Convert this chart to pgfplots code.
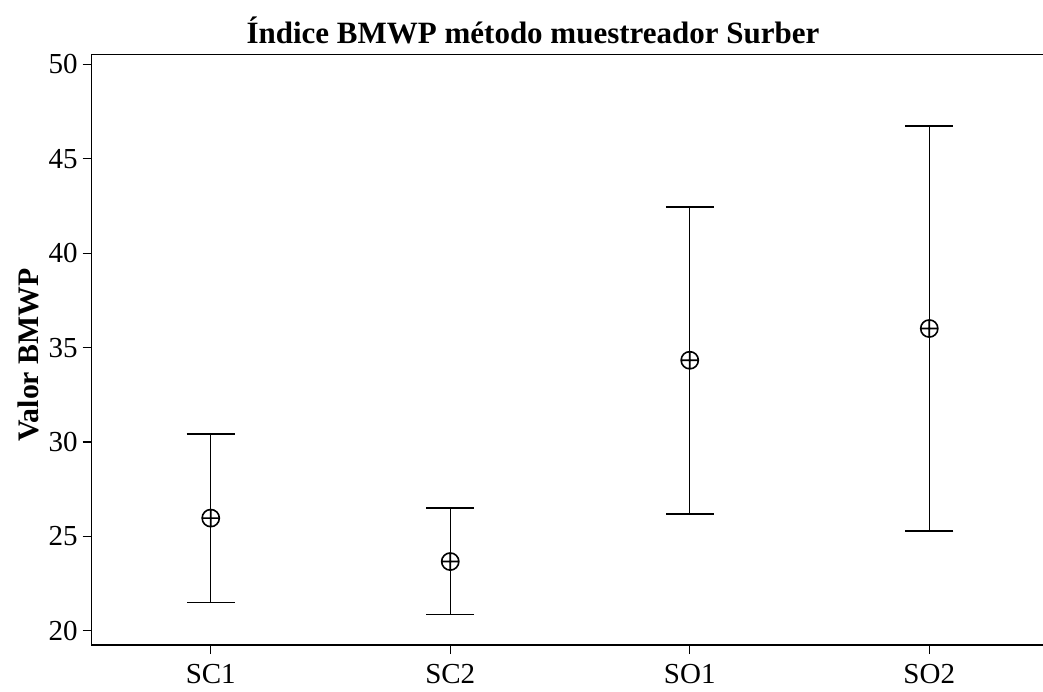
\documentclass[border=0pt]{standalone}
\usepackage{fontspec}
\setmainfont{Liberation Serif}
\usepackage{pgfplots}
\pgfplotsset{compat=1.18}
\usepackage{pgfplotstable}

% mean and the half-widths of the interval above and below it
\pgfplotstableread{
x mean eplus eminus
1 25.97 4.46 4.47
2 23.67 2.82 2.80
3 34.33 8.13 8.15
4 36.01 10.71 10.72
}\bmwp

\begin{document}
\begin{tikzpicture}[x=1pt,y=1pt]
\useasboundingbox (-45.85pt,-23pt) rectangle (475.65pt,322.5pt);
\begin{axis}[
  at={(0,0)}, anchor=south west,
  scale only axis, width=476.5pt, height=295.15pt,
  xmin=0.503, xmax=4.482, ymin=19.25, ymax=50.51,
  xtick={1,2,3,4}, xticklabels={SC1,SC2,SO1,SO2},
  ytick={20,25,...,50},
  xtick pos=bottom, ytick pos=left,
  tick align=outside, major tick length=4.5pt,
  axis line style={line width=0.65pt},
  every tick/.style={black, line width=0.6pt},
  tick label style={font=\fontsize{14.5}{17}\selectfont},
  yticklabel style={xshift=1pt},
  xticklabel style={yshift=-1.5pt},
  /pgf/number format/assume math mode=true,
  ylabel={Valor BMWP},
  every axis y label/.style={at={(axis description cs:-0.0665,0.491)}, rotate=90, anchor=center,
    font=\bfseries\fontsize{14.9}{17}\selectfont},
]
\addplot[draw=none, mark=oplus, mark size=4.3pt,
  mark options={line width=0.8pt, fill=white},
  error bars/.cd, y dir=both, y explicit,
  error bar style={line width=0.6pt},
  error mark options={rotate=90, mark size=12pt, line width=0.9pt}]
  table[x=x, y=mean, y error plus=eplus, y error minus=eminus]{\bmwp};
\end{axis}
\node[font=\bfseries\fontsize{15.5}{18}\selectfont] at (220.65pt,307.5pt) {Índice BMWP método muestreador Surber};
\end{tikzpicture}
\end{document}
